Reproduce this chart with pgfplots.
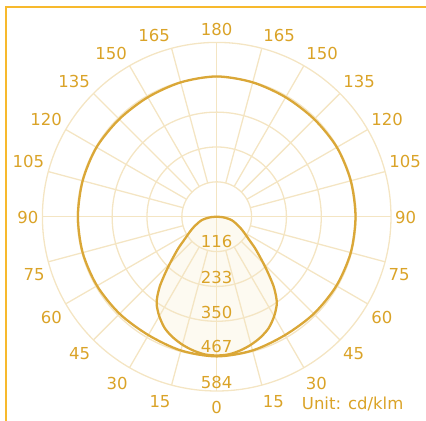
\documentclass[border=0pt]{standalone}
\usepackage{pgfplots}
\pgfplotsset{compat=1.18}
\usepackage{fontspec}
\setmainfont{DejaVu Sans}
\definecolor{gold}{RGB}{218,167,55}
\definecolor{lbl}{RGB}{218,163,40}
\definecolor{gridc}{RGB}{244,229,195}
\definecolor{framec}{RGB}{247,185,45}
\definecolor{fillc}{RGB}{253,250,241}
\begin{document}
\begin{tikzpicture}[lb/.style={text=lbl, font=\fontsize{16.5}{19}\selectfont, inner sep=0pt}]
\begin{axis}[x=0.29846pt, y=0.29846pt, hide axis,
  xmin=-726.1, xmax=701.3, ymin=-684.5, ymax=726.1,
  clip=false, scale only axis]
\coordinate (bl) at (axis cs:-726.1,-684.5);
\coordinate (tr) at (axis cs:701.3,726.1);
% frame
\draw[framec, line width=1.8pt] (axis cs:-706,-900) -- (axis cs:-706,702.6) -- (axis cs:900,702.6);
% teardrop fill
\addplot[draw=none, fill=fillc, data cs=polar, smooth] coordinates {
 (180,0) (184.8,20) (189.3,37) (193.1,52) (198.9,67) (204.5,85) (209.3,103)
 (215.5,134) (219.5,167) (223.0,199) (225.9,233) (228.5,268) (230.8,302)
 (233.4,334) (235.7,357) (240,385) (245,412) (250,430) (255,444) (260,455)
 (265,463) (270,465) (275,463) (280,455) (285,444) (290,430) (295,412)
 (300,385) (304.3,357) (306.6,334) (309.2,302) (311.5,268) (314.1,233)
 (317.0,199) (320.5,167) (324.5,134) (330.7,103) (335.5,85) (341.1,67)
 (346.9,52) (350.7,37) (355.2,20) (360,0)};
% grid rings
\pgfplotsinvokeforeach{1,2,3,4,5}{
  \draw[gridc, line width=1.3pt] (axis cs:0,0) circle[radius=116.8*#1];
}
% spokes
\pgfplotsinvokeforeach{15,30,45,60,75,105,120,135,150,165,195,210,225,240,255,285,300,315,330,345}{
  \draw[gridc, line width=1.3pt] (axis cs:{116.8*cos(#1)},{116.8*sin(#1)}) -- (axis cs:{584*cos(#1)},{584*sin(#1)});
}
\draw[gridc, line width=1.3pt] (axis cs:-584,0) -- (axis cs:584,0);
\draw[gridc, line width=1.3pt] (axis cs:0,-584) -- (axis cs:0,584);
% outer curve
\addplot[gold, line width=2.3pt, data cs=polar, smooth cycle] coordinates {
 (0,465) (15,465) (30,465) (45,462) (60,462) (75,466) (90,470) (105,466)
 (120,462) (135,462) (150,465) (165,465) (180,465) (195,465) (210,463)
 (225,460) (240,458) (255,464) (270,468) (285,464) (300,458) (315,460)
 (330,463) (345,465)};
% teardrop
\addplot[gold, line width=2.3pt, data cs=polar, smooth] coordinates {
 (180,0) (184.8,20) (189.3,37) (193.1,52) (198.9,67) (204.5,85) (209.3,103)
 (215.5,134) (219.5,167) (223.0,199) (225.9,233) (228.5,268) (230.8,302)
 (233.4,334) (235.7,357) (240,385) (245,412) (250,430) (255,444) (260,455)
 (265,463) (270,465) (275,463) (280,455) (285,444) (290,430) (295,412)
 (300,385) (304.3,357) (306.6,334) (309.2,302) (311.5,268) (314.1,233)
 (317.0,199) (320.5,167) (324.5,134) (330.7,103) (335.5,85) (341.1,67)
 (346.9,52) (350.7,37) (355.2,20) (360,0)};
% radial labels
\node[lb] at (axis cs:0,-84) {116};
\node[lb] at (axis cs:0,-203) {233};
\node[lb] at (axis cs:0,-320) {350};
\node[lb] at (axis cs:0,-436) {467};
\node[lb] at (axis cs:0,-556) {584};
% angle labels
\node[lb] at (axis cs:0,628) {180};
\node[lb] at (axis cs:-209.4,608.8) {165};
\node[lb] at (axis cs:209.4,608.8) {165};
\node[lb] at (axis cs:-353.5,547.5) {150};
\node[lb] at (axis cs:353.5,547.5) {150};
\node[lb] at (axis cs:-477.4,454.7) {135};
\node[lb] at (axis cs:477.4,454.7) {135};
\node[lb] at (axis cs:-571.3,327.3) {120};
\node[lb] at (axis cs:571.3,327.3) {120};
\node[lb] at (axis cs:-631.2,184.3) {105};
\node[lb] at (axis cs:631.2,184.3) {105};
\node[lb] at (axis cs:-632.9,-4) {90};
\node[lb] at (axis cs:632.9,-4) {90};
\node[lb] at (axis cs:-611.5,-195.3) {75};
\node[lb] at (axis cs:611.5,-195.3) {75};
\node[lb] at (axis cs:-553.8,-337.1) {60};
\node[lb] at (axis cs:553.8,-337.1) {60};
\node[lb] at (axis cs:-459,-460) {45};
\node[lb] at (axis cs:459,-460) {45};
\node[lb] at (axis cs:-334,-558.2) {30};
\node[lb] at (axis cs:334,-558.2) {30};
\node[lb] at (axis cs:-190,-619.8) {15};
\node[lb] at (axis cs:190,-619.8) {15};
\node[lb] at (axis cs:0,-637.6) {0};
\node[lb] at (axis cs:455.6,-628.5) {Unit: cd/klm};
\end{axis}
\pgfresetboundingbox
\path[use as bounding box] (bl) rectangle (tr);
\end{tikzpicture}
\end{document}
